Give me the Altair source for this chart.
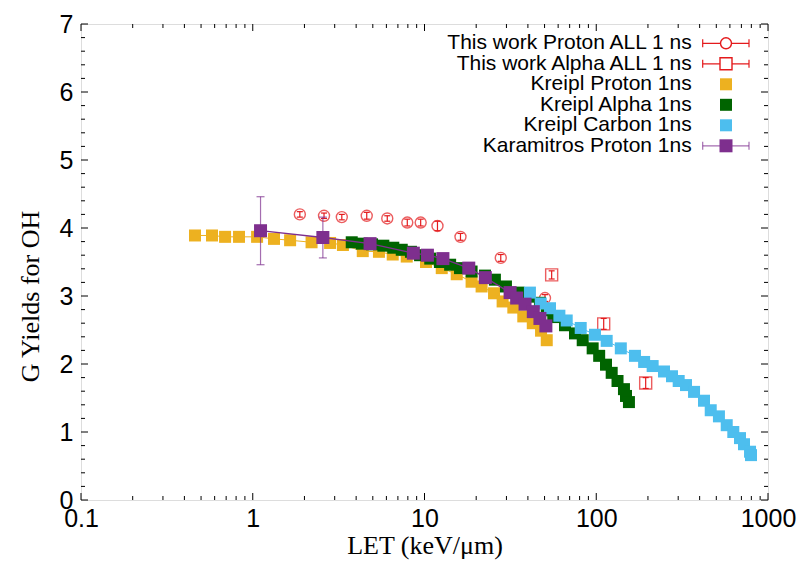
import altair as alt
import pandas as pd

# ---------------- data ----------------
tw_p_let = [1.88, 2.60, 3.30, 4.61, 6.07, 7.94, 9.50, 11.9, 16.2, 27.8, 50.3]
tw_p_g = [4.20, 4.18, 4.16, 4.18, 4.14, 4.08, 4.08, 4.03, 3.87, 3.56, 2.97]
tw_p_err = [0.04, 0.04, 0.04, 0.05, 0.04, 0.05, 0.05, 0.07, 0.05, 0.05, 0.05]

tw_a_let = [55.0, 110.5, 194.0]
tw_a_g = [3.31, 2.59, 1.72]
tw_a_err = [0.06, 0.08, 0.08]

kp_let = [0.461, 0.579, 0.690, 0.832, 1.06, 1.33, 1.65, 2.20, 2.82, 3.35, 4.37, 5.43, 6.53,
          7.88, 10.2, 12.6, 15.4, 18.8, 21.5, 25.4, 28.5, 32.9, 37.6, 42.7, 47.7, 51.5]
kp_g = [3.89, 3.89, 3.87, 3.87, 3.87, 3.84, 3.82, 3.79, 3.78, 3.75, 3.66, 3.65, 3.61,
        3.58, 3.50, 3.41, 3.32, 3.21, 3.14, 3.04, 2.92, 2.83, 2.70, 2.60, 2.49, 2.35]

ka_let = [3.77, 4.31, 4.95, 5.76, 6.58, 7.37, 8.34, 9.42, 10.8, 12.3, 14.1, 16.1, 18.8, 22.5,
          25.7, 29.8, 35.2, 40.2, 47.0, 51.5, 56.2, 65.8, 75.2, 83.4, 95.3, 104, 114, 123,
          133, 145, 149, 155]
ka_g = [3.79, 3.77, 3.76, 3.74, 3.71, 3.68, 3.65, 3.60, 3.55, 3.50, 3.46, 3.41, 3.36, 3.30,
        3.24, 3.14, 3.05, 2.99, 2.90, 2.79, 2.69, 2.57, 2.45, 2.35, 2.23, 2.12, 1.99, 1.87,
        1.75, 1.63, 1.53, 1.44]

kc_let = [41.1, 47.5, 53.8, 61.0, 67.3, 81.2, 98.3, 115, 139, 168, 190, 213, 248, 276, 302,
          333, 371, 424, 464, 518, 575, 628, 687, 725, 786, 796]
kc_g = [3.05, 2.89, 2.82, 2.71, 2.64, 2.53, 2.43, 2.34, 2.23, 2.12, 2.03, 1.97, 1.89, 1.82,
        1.75, 1.69, 1.59, 1.46, 1.32, 1.23, 1.10, 1.00, 0.91, 0.82, 0.71, 0.66]

km_let = [1.11, 2.56, 4.82, 8.61, 10.4, 12.8, 18.1, 22.6, 31.5, 34.4, 38.5, 43.0, 47.0, 50.9]
km_g = [3.96, 3.86, 3.77, 3.63, 3.60, 3.55, 3.41, 3.27, 3.05, 2.97, 2.88, 2.77, 2.67, 2.56]
km_err = [0.50, 0.30, 0, 0, 0, 0, 0, 0, 0, 0, 0, 0, 0, 0]

legend_labels = ["This work Proton ALL 1 ns", "This work Alpha ALL 1 ns", "Kreipl Proton 1ns",
                 "Kreipl Alpha 1ns", "Kreipl Carbon 1ns", "Karamitros Proton 1ns"]

x_major = [0.1, 1, 10, 100, 1000]
x_minor = [m * d for d in [0.1, 1, 10, 100] for m in range(2, 10)]
y_major = [0, 1, 2, 3, 4, 5, 6, 7]
y_minor = [round(i * 0.2, 1) for i in range(36) if i % 5 != 0]

# ---------------- style ----------------
W, H = 687, 476
RED = "#E41A1C"
ORANGE = "#EDB120"
GREEN = "#006400"
BLUE = "#4DBEEE"
PURPLE = "#7E2F8E"
SANS = "Liberation Sans"
SERIF = "Liberation Serif"

xs = alt.Scale(type="log", domain=[0.1, 1000])
ys = alt.Scale(domain=[0, 7])
xax = alt.Axis(values=x_major, format="~g", title="LET (keV/μm)", grid=False, ticks=False,
               tickSize=0, domain=False, labelFont=SANS, labelFontSize=25, labelColor="black",
               labelPadding=6, labelFlush=False, titleFont=SERIF, titleFontSize=26,
               titleFontWeight="normal", titleColor="black", titleY=53, titleBaseline="alphabetic")
yax = alt.Axis(values=y_major, format="d", title="G Yields for OH", grid=False, ticks=False,
               tickSize=0, domain=False, labelFont=SANS, labelFontSize=25, labelColor="black",
               labelPadding=8, labelFlush=False, titleFont=SERIF, titleFontSize=26,
               titleFontWeight="normal", titleColor="black", titleX=-43, titleY=272,
               titleBaseline="alphabetic")


def X(f="let"):
    return alt.X(f"{f}:Q", scale=xs, axis=xax)


def Y(f="g"):
    return alt.Y(f"{f}:Q", scale=ys, axis=yax)


def df(lets, gs, errs=None):
    d = pd.DataFrame({"let": lets, "g": gs})
    if errs is not None:
        d["err"] = errs
        d["lo"] = d["g"] - d["err"]
        d["hi"] = d["g"] + d["err"]
    return d


layers = []

# axis ticks (inward, mirrored)
tx_major = pd.DataFrame({"v": x_major})
tx_minor = pd.DataFrame({"v": x_minor})
ty_major = pd.DataFrame({"v": y_major})
ty_minor = pd.DataFrame({"v": y_minor})
for d, L in [(tx_major, 7), (tx_minor, 4)]:
    layers.append(alt.Chart(d).mark_rule(color="black", strokeWidth=1).encode(
        x=X("v"), y=alt.value(H), y2=alt.value(H - L)))
    layers.append(alt.Chart(d).mark_rule(color="black", strokeWidth=1).encode(
        x=X("v"), y=alt.value(0), y2=alt.value(L)))
for d, L in [(ty_major, 7), (ty_minor, 4)]:
    layers.append(alt.Chart(d).mark_rule(color="black", strokeWidth=1).encode(
        y=Y("v"), x=alt.value(0), x2=alt.value(L)))
    layers.append(alt.Chart(d).mark_rule(color="black", strokeWidth=1).encode(
        y=Y("v"), x=alt.value(W), x2=alt.value(W - L)))


def errbars(d, color, cap, opacity=1.0):
    d = d[d["err"] > 0]
    out = [alt.Chart(d).mark_rule(color=color, strokeWidth=1.2, opacity=opacity).encode(
        x=X(), y=Y("lo"), y2=alt.Y2("hi"))]
    for f in ["lo", "hi"]:
        out.append(alt.Chart(d).mark_tick(color=color, orient="horizontal", size=cap,
                                          thickness=1.2, opacity=opacity).encode(x=X(), y=Y(f)))
    return out


# This work Proton
d_twp = df(tw_p_let, tw_p_g, tw_p_err)
layers += errbars(d_twp, RED, 6)
layers.append(alt.Chart(d_twp).mark_point(shape="circle", size=121, color=RED, filled=False,
                                          strokeWidth=1.4).encode(x=X(), y=Y()))
# This work Alpha
d_twa = df(tw_a_let, tw_a_g, tw_a_err)
layers += errbars(d_twa, RED, 6)
layers.append(alt.Chart(d_twa).mark_point(shape="square", size=144, color=RED, filled=False,
                                          strokeWidth=1.4).encode(x=X(), y=Y()))
# Kreipl series
for lets, gs, col in [(kp_let, kp_g, ORANGE), (ka_let, ka_g, GREEN), (kc_let, kc_g, BLUE)]:
    d = df(lets, gs)
    layers.append(alt.Chart(d).mark_line(color=col, strokeWidth=1).encode(x=X(), y=Y()))
    layers.append(alt.Chart(d).mark_point(shape="square", size=144, color=col, filled=True,
                                          opacity=1).encode(x=X(), y=Y()))
# Karamitros
d_km = df(km_let, km_g, km_err)
layers.append(alt.Chart(d_km).mark_line(color=PURPLE, strokeWidth=1.3).encode(x=X(), y=Y()))
layers += errbars(d_km, PURPLE, 8, opacity=0.7)
layers.append(alt.Chart(d_km).mark_point(shape="square", size=169, color=PURPLE, filled=True,
                                         opacity=1).encode(x=X(), y=Y()))

# ---------------- legend ----------------
leg_text_x = 610.7
leg_sym_x = 645
leg_bar = (621.7, 668)
leg_y0 = 19.3
leg_dy = 20.5
leg_styles = [
    (RED, "circle", False, 121, True),
    (RED, "square", False, 144, True),
    (ORANGE, "square", True, 144, False),
    (GREEN, "square", True, 144, False),
    (BLUE, "square", True, 144, False),
    (PURPLE, "square", True, 169, True),
]
for i, (lab, (col, shp, fil, sz, bar)) in enumerate(zip(legend_labels, leg_styles)):
    yy = leg_y0 + i * leg_dy
    one = pd.DataFrame({"label": [lab]})
    layers.append(alt.Chart(one).mark_text(align="right", baseline="middle", font=SANS,
                                           fontSize=21, color="black").encode(
        text="label:N", x=alt.value(leg_text_x), y=alt.value(yy)))
    if bar:
        op = 0.7 if col == PURPLE else 1.0
        layers.append(alt.Chart(one).mark_rule(color=col, strokeWidth=1.2, opacity=op).encode(
            x=alt.value(leg_bar[0]), x2=alt.value(leg_bar[1]), y=alt.value(yy)))
        for bx in leg_bar:
            layers.append(alt.Chart(one).mark_rule(color=col, strokeWidth=1.2, opacity=op).encode(
                x=alt.value(bx), y=alt.value(yy - 4), y2=alt.value(yy + 4)))
    if fil:
        pt = alt.Chart(one).mark_point(shape=shp, size=sz, color=col, filled=True, opacity=1)
    else:
        pt = alt.Chart(one).mark_point(shape=shp, size=sz, color=col, filled=False,
                                       fill="white", fillOpacity=1, strokeWidth=1.4)
    layers.append(pt.encode(x=alt.value(leg_sym_x), y=alt.value(yy)))

chart = alt.layer(*layers).properties(
    width=W, height=H,
    autosize=alt.AutoSizeParams(type="none"),
    padding={"left": 73, "top": 16, "right": 30, "bottom": 62},
).configure_view(stroke="black", strokeWidth=2).configure(background="white")

chart.save("out.html", embed_options={"renderer": "svg", "actions": False})
